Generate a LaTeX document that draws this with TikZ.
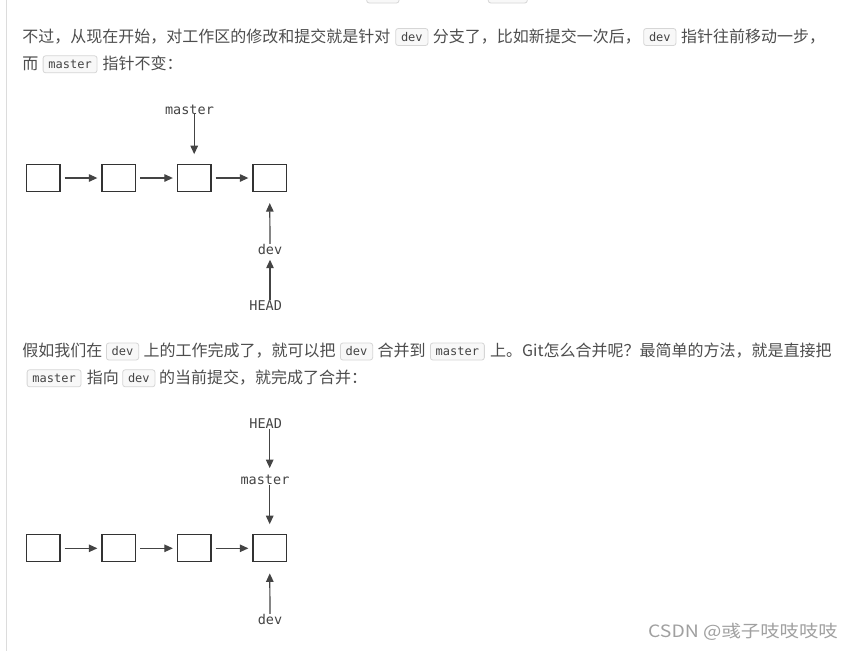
\documentclass[tikz,border=0pt]{standalone}
\usepackage{fontspec}
\usepackage{graphicx}
\setmainfont{Noto Sans CJK SC}
\newfontfamily\cjk{Noto Sans CJK SC}
\newfontfamily\mono{DejaVu Sans Mono}
\usetikzlibrary{arrows.meta}
\definecolor{bodyc}{HTML}{4D4D4D}
\definecolor{codeborder}{HTML}{D6D6D6}
\definecolor{codebg}{HTML}{F8F8F8}
\definecolor{codetext}{HTML}{444444}
\definecolor{boxc}{HTML}{333333}
\definecolor{arrc}{HTML}{444444}
\definecolor{labc}{HTML}{444444}
\definecolor{rulec}{HTML}{DCDCDC}
\definecolor{wmc}{HTML}{A0A0A0}
\tikzset{
  txt/.style={anchor=west, inner sep=0pt, font=\cjk\fontsize{16}{16}\selectfont, text=bodyc, text height=12pt, text depth=0pt},
  code/.style={anchor=west, draw=codeborder, fill=codebg, rounded corners=2.5pt, line width=0.8pt, inner xsep=5.3pt, inner ysep=0pt, minimum height=17pt, font=\mono\fontsize{12}{12}\selectfont, text=codetext, text height=8pt, text depth=0pt},
  commit/.style={draw=boxc, line width=1.2pt, minimum width=33.5pt, minimum height=27pt, inner sep=0pt},
  reflabel/.style={inner sep=0pt, font=\mono\fontsize{13.5}{13.5}\selectfont, text=labc, text height=10pt, text depth=0pt},
  ptr/.style={draw=arrc, line width=1.2pt, -{Triangle[length=8.5pt,width=7.5pt]}},
  link/.style={ptr, shorten <=4pt, shorten >=4pt}
}
\begin{document}
\begin{tikzpicture}[x=1pt,y=-1pt]
\useasboundingbox (0,0) rectangle (855,651);
\fill[white] (0,0) rectangle (855,651);
\clip (0,0) rectangle (855,651);
% left rule
\draw[rulec, line width=1.2pt] (6.5,0) -- (6.5,651);
% partial code boxes cut at the top
\draw[codeborder, fill=codebg, rounded corners=2.5pt, line width=0.8pt] (366.7,-15) rectangle (399,3);
\draw[codeborder, fill=codebg, rounded corners=2.5pt, line width=0.8pt] (488.3,-15) rectangle (527.3,3);

% paragraph 1
\node[txt] (t11) at (22.3,36) {不过，从现在开始，对工作区的修改和提交就是针对};
\node[code] (c11) at (395.3,37) {dev};
\node[txt] (t12) at (432.6,36) {分支了，比如新提交一次后，};
\node[code] (c12) at (643.3,37) {dev};
\node[txt] (t13) at (681,36) {指针往前移动一步，};
\node[txt] (t14) at (22.3,63.3) {而};
\node[code] (c13) at (42.7,64.3) {master};
\node[txt] (t15) at (102.3,63.3) {指针不变：};

% diagram 1
\node[commit] (a1) at (43.2,178) {};
\node[commit] (a2) at (118.7,178) {};
\node[commit] (a3) at (194.2,178) {};
\node[commit] (a4) at (269.7,178) {};
\draw[link] (a1) -- (a2);
\draw[link] (a2) -- (a3);
\draw[link] (a3) -- (a4);
\node[reflabel] (m1) at (189.5,109) {master};
\draw[ptr, shorten >=9.7pt] (m1.south -| a3.north) -- (a3.north);
\node[reflabel] (d1) at (270,249) {dev};
\draw[ptr, shorten >=11pt] (d1.north) -- (a4.south);
\node[reflabel] (h1) at (265.7,305) {HEAD};
\draw[ptr, shorten >=5.5pt] (h1.north -| d1.south) -- (d1.south);

% paragraph 2
\node[txt] (t21) at (22.3,350) {假如我们在};
\node[code] (c21) at (106,351.5) {dev};
\node[txt] (t22) at (143.3,350) {上的工作完成了，就可以把};
\node[code] (c22) at (340,351.5) {dev};
\node[txt] (t23) at (377.5,350) {合并到};
\node[code] (c23) at (430,351.5) {master};
\node[txt] (t24) at (490,350) {上。Git怎么合并呢？最简单的方法，就是直接把};
\node[code] (c24) at (26.7,378.3) {master};
\node[txt] (t25) at (86.7,377) {指向};
\node[code] (c25) at (122.3,378.3) {dev};
\node[txt] (t26) at (159,377) {的当前提交，就完成了合并：};

% diagram 2
\node[commit] (b1) at (43.2,548.3) {};
\node[commit] (b2) at (118.7,548.3) {};
\node[commit] (b3) at (194.2,548.3) {};
\node[commit] (b4) at (269.7,548.3) {};
\draw[link] (b1) -- (b2);
\draw[link] (b2) -- (b3);
\draw[link] (b3) -- (b4);
\node[reflabel] (h2) at (265.7,423.3) {HEAD};
\node[reflabel] (m2) at (265,479.3) {master};
\node[reflabel] (d2) at (270,619) {dev};
\draw[ptr, shorten >=6pt] (h2.south -| b4.north) -- (m2.north -| b4.north);
\draw[ptr, shorten >=10pt] (m2.south -| b4.north) -- (b4.north);
\draw[ptr, shorten >=11pt] (d2.north) -- (b4.south);

% watermark
\node[anchor=east, inner sep=0pt, font=\cjk\fontsize{17}{17}\selectfont, text=wmc] (wm) at (838,632) {\scalebox{1.14}[1]{CSDN @彧子吱吱吱吱}};
\end{tikzpicture}
\end{document}
